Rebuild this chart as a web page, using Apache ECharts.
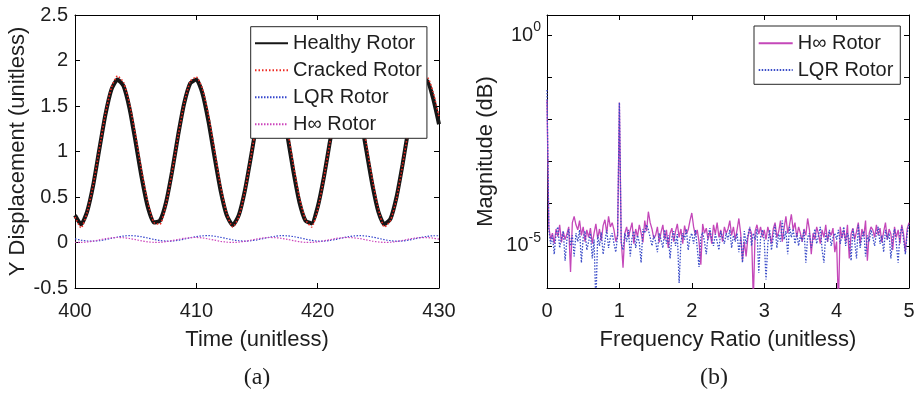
<!DOCTYPE html>
<html><head><meta charset="utf-8">
<script src="https://cdn.jsdelivr.net/npm/echarts@6/dist/echarts.min.js"></script>
<style>html,body{margin:0;padding:0;background:#fff}#c{width:919px;height:394px}</style>
</head><body><div id="c"></div>
<script>
// ---------- Panel (a): time responses, sampled every 0.5 from t = 400 ----------
const timeStart = 400, timeStep = 0.5;
const healthyRotor = [0.30,0.20,0.34,0.63,1.02,1.40,1.68,1.79,1.72,1.47,1.10,0.71,0.39,0.22,0.24,0.44,0.78,1.18,1.53,1.75,1.79,1.64,1.33,0.94,0.57,0.30,0.19,0.30,0.57,0.94,1.33,1.64,1.79,1.75,1.53,1.18,0.78,0.44,0.24,0.21,0.39,0.71,1.10,1.47,1.72,1.80,1.68,1.40,1.02,0.64,0.34,0.20,0.26,0.50,0.86,1.26,1.59,1.78,1.78,1.59,1.30];
const crackedRotor = [0.28,0.16,0.33,0.63,1.02,1.41,1.70,1.83,1.76,1.52,1.17,0.78,0.44,0.22,0.20,0.42,0.77,1.17,1.53,1.77,1.82,1.69,1.40,1.01,0.62,0.32,0.17,0.28,0.56,0.94,1.33,1.65,1.81,1.79,1.59,1.25,0.85,0.49,0.25,0.17,0.36,0.70,1.09,1.47,1.74,1.83,1.73,1.47,1.09,0.70,0.37,0.17,0.24,0.48,0.85,1.25,1.59,1.80,1.82,1.66,1.38];
const lqrRotor = [0.040,0.026,0.017,0.015,0.020,0.031,0.046,0.060,0.071,0.075,0.072,0.063,0.049,0.034,0.022,0.016,0.016,0.024,0.037,0.052,0.065,0.073,0.075,0.069,0.057,0.043,0.029,0.019,0.015,0.019,0.029,0.043,0.057,0.069,0.075,0.073,0.065,0.052,0.037,0.024,0.016,0.016,0.022,0.034,0.049,0.063,0.072,0.075,0.071,0.060,0.046,0.031,0.020,0.015,0.017,0.026,0.040,0.055,0.067,0.074,0.074];
const hinfRotor = [0.003,0.001,0.006,0.016,0.029,0.042,0.051,0.055,0.052,0.044,0.031,0.018,0.007,0.002,0.002,0.009,0.021,0.034,0.046,0.053,0.055,0.050,0.039,0.026,0.013,0.004,0.001,0.004,0.013,0.026,0.039,0.050,0.055,0.053,0.046,0.034,0.021,0.009,0.002,0.002,0.007,0.018,0.031,0.044,0.052,0.055,0.051,0.042,0.029,0.016,0.006,0.001,0.003,0.011,0.023,0.037,0.048,0.054,0.054,0.048,0.037];

// ---------- Panel (b): spectra, log10 of magnitude, every 0.025 from 0 ----------
const freqStep = 0.025;
const hinfSpecLog10 = [
-1.54,-4.55,-4.85,-4.70,-4.95,-4.60,-4.78,-4.50,-4.92,-4.66,-4.85,-4.72,-4.55,-5.62,-4.45,-4.30,-4.50,-4.62,-4.40,-4.75,
-4.55,-4.90,-4.62,-4.80,-4.58,-4.95,-4.70,-4.48,-4.82,-4.60,-4.88,-4.52,-4.38,-4.70,-4.30,-4.55,-4.45,-4.62,-4.90,-4.75,
-1.60,-4.85,-5.52,-4.70,-4.55,-4.80,-4.62,-4.45,-4.95,-4.60,-4.78,-4.50,-4.70,-4.92,-4.40,-4.65,-4.19,-4.45,-4.60,-4.82,
-4.75,-4.55,-4.92,-4.68,-4.50,-4.85,-4.62,-5.05,-4.70,-4.58,-4.90,-4.66,-4.48,-4.80,-4.60,-4.95,-4.52,-4.72,-4.62,-4.40,
-4.22,-4.55,-4.75,-4.62,-4.90,-5.45,-4.48,-4.70,-4.58,-4.85,-4.65,-4.95,-4.50,-4.72,-4.45,-4.80,-4.62,-4.90,-4.55,-4.70,
-4.60,-4.40,-4.75,-4.55,-4.85,-4.62,-4.35,-4.70,-5.35,-4.90,-5.25,-4.80,-4.58,-4.70,-6.30,-4.65,-4.50,-4.72,-4.55,-4.80,
-4.62,-4.85,-4.55,-4.72,-4.95,-4.60,-4.45,-4.80,-4.66,-4.40,-4.90,-4.58,-4.30,-4.70,-4.50,-4.25,-4.62,-4.45,-4.80,-4.55,
-4.70,-4.90,-4.60,-4.75,-4.35,-4.62,-5.20,-4.70,-4.85,-4.55,-4.72,-4.95,-4.62,-4.80,-4.50,-4.90,-4.66,-4.75,-4.58,-5.15,
-4.90,-6.40,-4.55,-4.82,-4.62,-4.90,-4.50,-5.30,-4.72,-4.58,-4.85,-4.66,-4.45,-4.95,-4.60,-4.78,-4.40,-5.35,-4.70,-4.55,
-4.62,-4.80,-4.50,-4.75,-4.58,-4.92,-4.66,-4.45,-4.85,-4.60,-4.72,-5.10,-4.55,-4.80,-4.62,-4.95,-4.50,-4.72,-5.15,-4.60,
-4.45];
const lqrSpecLog10 = [
-1.30,-4.60,-4.95,-4.75,-5.20,-4.70,-4.55,-5.05,-4.80,-4.65,-5.35,-4.85,-4.60,-5.00,-4.75,-5.25,-4.70,-4.90,-4.62,-5.40,
-4.80,-4.65,-5.10,-4.90,-4.70,-5.30,-4.85,-6.40,-4.75,-5.00,-4.68,-5.20,-4.90,-4.62,-5.05,-4.80,-4.70,-4.95,-5.15,-4.75,
-1.60,-4.95,-5.10,-4.70,-4.90,-4.62,-5.25,-4.80,-4.65,-5.05,-4.75,-4.92,-5.40,-4.60,-4.70,-4.50,-4.62,-4.80,-5.00,-4.75,
-4.90,-5.15,-4.70,-4.85,-5.05,-4.62,-4.95,-4.75,-5.30,-4.80,-4.65,-5.00,-4.72,-5.88,-4.90,-4.70,-4.85,-4.60,-5.10,-4.80,
-4.70,-4.95,-4.62,-5.05,-5.50,-4.80,-4.68,-4.90,-5.20,-4.75,-4.58,-4.85,-5.00,-4.72,-4.90,-5.10,-4.65,-4.80,-4.95,-4.70,
-4.85,-4.62,-5.05,-4.75,-4.90,-4.70,-5.15,-4.80,-5.40,-4.65,-4.95,-4.75,-4.55,-5.00,-4.70,-4.85,-4.60,-5.64,-4.80,-4.62,
-4.85,-5.80,-4.95,-4.62,-5.10,-4.80,-4.50,-5.05,-4.72,-4.90,-4.40,-4.85,-4.65,-5.20,-4.55,-4.80,-4.60,-4.95,-4.70,-5.00,
-4.75,-4.90,-4.62,-5.40,-4.80,-4.70,-5.05,-4.85,-4.60,-4.95,-4.75,-4.55,-5.10,-5.40,-4.70,-4.90,-4.62,-5.00,-4.80,-4.70,
-4.85,-4.62,-4.95,-4.75,-4.55,-5.00,-4.70,-4.85,-5.35,-4.60,-4.90,-5.30,-4.50,-5.05,-4.80,-4.65,-5.25,-4.75,-4.90,-4.62,
-4.80,-5.00,-4.70,-4.55,-4.95,-4.75,-5.15,-4.62,-4.85,-4.70,-5.30,-4.80,-4.60,-4.95,-5.40,-4.72,-4.55,-4.85,-5.20,-4.70,
-4.50];

const FONT = '"Liberation Sans", Arial, Helvetica, sans-serif';
const SERIF = '"Liberation Serif", "Times New Roman", serif';
const INK = '#1e1e1e';

const tSeries = arr => arr.map((v, i) => [timeStart + i * timeStep, v]);
const fSeries = arr => arr.map((v, i) => [+(i * freqStep).toFixed(3), Math.pow(10, v)]);

const axisCommon = {
  axisLine: { onZero: false, lineStyle: { color: '#000', width: 1 } },
  axisTick: { inside: true, length: 5, lineStyle: { color: '#000', width: 1 } },
  splitLine: { show: false },
  minorTick: { show: false }
};
const labelStyle = { color: INK, fontSize: 20, fontFamily: FONT };
const nameStyle = { color: INK, fontSize: 22, fontFamily: FONT };

const chart = echarts.init(document.getElementById('c'), null, { renderer: 'canvas' });
chart.setOption({
  animation: false,
  backgroundColor: '#fff',
  grid: [
    { left: 75, top: 15, width: 364, height: 273 },
    { left: 547, top: 15, width: 362, height: 273 }
  ],
  xAxis: [
    Object.assign({}, axisCommon, { gridIndex: 0, type: 'value', position: 'bottom', min: 400, max: 430, interval: 10,
      axisLabel: Object.assign({ margin: 13 }, labelStyle),
      name: 'Time (unitless)', nameLocation: 'middle', nameGap: 41, nameTextStyle: nameStyle }),
    Object.assign({}, axisCommon, { gridIndex: 0, type: 'value', position: 'top', min: 400, max: 430, interval: 10,
      axisLabel: { show: false } }),
    Object.assign({}, axisCommon, { gridIndex: 1, type: 'value', position: 'bottom', min: 0, max: 5, interval: 1,
      axisLabel: Object.assign({ margin: 13 }, labelStyle),
      name: 'Frequency Ratio (unitless)', nameLocation: 'middle', nameGap: 41, nameTextStyle: nameStyle }),
    Object.assign({}, axisCommon, { gridIndex: 1, type: 'value', position: 'top', min: 0, max: 5, interval: 1,
      axisLabel: { show: false } })
  ],
  yAxis: [
    Object.assign({}, axisCommon, { gridIndex: 0, type: 'value', position: 'left', min: -0.5, max: 2.5, interval: 0.5,
      axisLabel: Object.assign({ margin: 7 }, labelStyle),
      name: 'Y Displacement (unitless)', nameLocation: 'middle', nameGap: 46, nameRotate: 90, nameTextStyle: nameStyle }),
    Object.assign({}, axisCommon, { gridIndex: 0, type: 'value', position: 'right', min: -0.5, max: 2.5, interval: 0.5,
      axisLabel: { show: false } }),
    Object.assign({}, axisCommon, { gridIndex: 1, type: 'log', logBase: 10, position: 'left', min: 1e-6, max: 3, interval: 1,
      axisLabel: {
        margin: 6,
        formatter: v => {
          const e = Math.round(Math.log10(v));
          if (Math.abs(Math.log10(v) - e) > 1e-6) return '';
          if (e === 0) return '{b|10}{s|0}';
          if (e === -5) return '{b|10}{s|-5}';
          return '';
        },
        rich: {
          b: { fontSize: 20, lineHeight: 30, color: INK, fontFamily: FONT },
          s: { fontSize: 14, lineHeight: 14, verticalAlign: 'top', color: INK, fontFamily: FONT }
        }
      },
      name: 'Magnitude (dB)', nameLocation: 'middle', nameGap: 50, nameRotate: 90, nameTextStyle: nameStyle }),
    Object.assign({}, axisCommon, { gridIndex: 1, type: 'log', logBase: 10, position: 'right', min: 1e-6, max: 3, interval: 1,
      axisLabel: { show: false } })
  ],
  legend: [
    { data: ['Healthy Rotor', 'Cracked Rotor', 'LQR Rotor', 'H∞ Rotor'],
      orient: 'vertical', left: 250.7, top: 26.7, itemWidth: 33, itemHeight: 14, itemGap: 7,
      padding: [6.6, 5, 4, 3.3], borderColor: '#262626', borderWidth: 1, backgroundColor: '#fff', borderRadius: 0,
      itemStyle: { opacity: 0 },
      textStyle: { fontSize: 20, lineHeight: 20, color: INK, fontFamily: FONT }, selectedMode: false },
    { data: ['H∞ Rotor ', 'LQR Rotor '],
      orient: 'vertical', left: 754, top: 26, itemWidth: 34, itemHeight: 14, itemGap: 6.7,
      padding: [7.3, 7, 4.3, 3.7], borderColor: '#262626', borderWidth: 1, backgroundColor: '#fff', borderRadius: 0,
      itemStyle: { opacity: 0 },
      formatter: n => n.trim(),
      textStyle: { fontSize: 20, lineHeight: 20, color: INK, fontFamily: FONT }, selectedMode: false }
  ],
  series: [
    { name: 'LQR Rotor', type: 'line', xAxisIndex: 0, yAxisIndex: 0, data: tSeries(lqrRotor), showSymbol: false, symbol: 'none',
      smooth: 0.3, color: '#3344cc', lineStyle: { width: 1.2, type: [1.5, 1.5], color: '#3344cc' } },
    { name: 'H∞ Rotor', type: 'line', xAxisIndex: 0, yAxisIndex: 0, data: tSeries(hinfRotor), showSymbol: false, symbol: 'none',
      smooth: 0.3, color: '#cc44bb', lineStyle: { width: 1.2, type: [1.5, 1.5], color: '#cc44bb' } },
    { name: 'Healthy Rotor', type: 'line', xAxisIndex: 0, yAxisIndex: 0, data: tSeries(healthyRotor), showSymbol: false, symbol: 'none',
      smooth: 0.2, color: '#161616', lineStyle: { width: 4, color: '#161616' } },
    { name: 'Cracked Rotor', type: 'line', xAxisIndex: 0, yAxisIndex: 0, data: tSeries(crackedRotor), showSymbol: false, symbol: 'none',
      smooth: 0.2, color: '#ee2a22', lineStyle: { width: 1.6, type: [1.5, 2], color: '#ee2a22' } },
    { name: 'H∞ Rotor ', type: 'line', xAxisIndex: 2, yAxisIndex: 2, data: fSeries(hinfSpecLog10), showSymbol: false, symbol: 'none',
      color: '#c447b9', lineStyle: { width: 1.3, color: '#c447b9' } },
    { name: 'LQR Rotor ', type: 'line', xAxisIndex: 2, yAxisIndex: 2, data: fSeries(lqrSpecLog10), showSymbol: false, symbol: 'none',
      color: '#3a4cc8', lineStyle: { width: 1.3, type: [1.5, 1.5], color: '#3a4cc8' } }
  ],
  graphic: [
    { type: 'text', x: 257, y: 378, style: { text: '(a)', x: 0, y: 0, fill: INK, font: '24px ' + SERIF, textAlign: 'center', textVerticalAlign: 'middle' } },
    { type: 'text', x: 714, y: 378, style: { text: '(b)', x: 0, y: 0, fill: INK, font: '24px ' + SERIF, textAlign: 'center', textVerticalAlign: 'middle' } }
  ]
});
</script></body></html>
